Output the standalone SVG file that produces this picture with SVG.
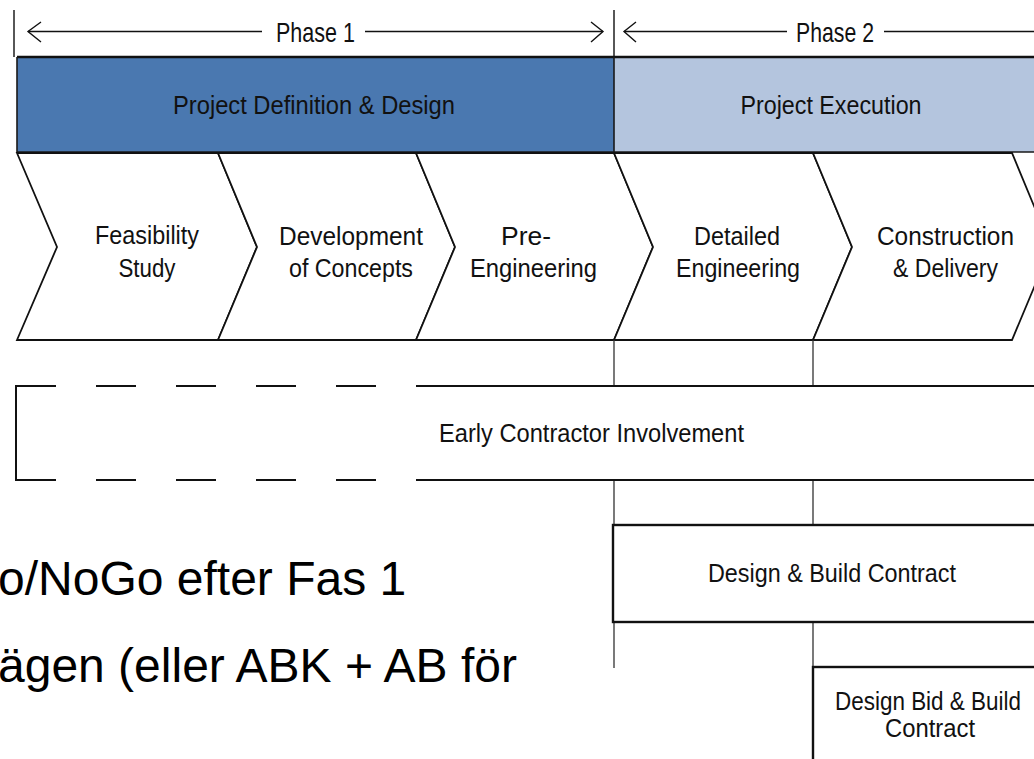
<svg xmlns="http://www.w3.org/2000/svg" width="1034" height="759" viewBox="0 0 1034 759">
<style>
.t{font-family:"Liberation Sans",Arial,sans-serif;font-size:25px;fill:#111;text-anchor:middle}
.ph{font-size:28px}
.bd{font-size:26px}
.big{font-family:"Liberation Sans",Arial,sans-serif;font-size:48px;fill:#000}
.ln{stroke:#111;stroke-width:1.4;fill:none}
.chev{fill:#fff;stroke:#111;stroke-width:1.8;stroke-linejoin:miter}
.box{fill:#fff;stroke:#111;stroke-width:2.4}
.conn{stroke:#333;stroke-width:1.3;fill:none}
</style>
<rect width="1034" height="759" fill="#fff"/>
<g id="phases">
  <path class="ln" d="M14,10 V57 M614,10 V57"/>
  <path class="ln" d="M28,31.5 H262 M365,31.5 H603 M624,31.5 H787 M884,31.5 H1040"/>
  <path class="ln" d="M41,22 L28,31.5 L41,42 M591,22 L603,31.5 L591,42 M636,22 L624,31.5 L636,42"/>
  <text class="t ph" x="315.5" y="41.5" textLength="79" lengthAdjust="spacingAndGlyphs">Phase 1</text>
  <text class="t ph" x="835" y="41.5" textLength="78" lengthAdjust="spacingAndGlyphs">Phase 2</text>
</g>
<g id="band-design">
  <rect x="17" y="57" width="597" height="95" fill="#4a78b0"/>
  <text class="t bd" x="314" y="114" textLength="282" lengthAdjust="spacingAndGlyphs">Project Definition &amp; Design</text>
</g>
<g id="band-execution">
  <rect x="614" y="57" width="425" height="95" fill="#b4c5de"/>
  <text class="t bd" x="831" y="114" textLength="181" lengthAdjust="spacingAndGlyphs">Project Execution</text>
</g>
<path d="M17,57 H1040" stroke="#111" stroke-width="2.6" fill="none"/>
<path d="M17,152 H1040 M17,57 V152 M614,57 V152" stroke="#1a1a1a" stroke-width="1.6" fill="none"/>
<g id="feasibility">
  <polygon class="chev" points="17,153 218,153 257,247 218,340 17,340 57,247"/>
  <text class="t" x="147" y="244" textLength="104" lengthAdjust="spacingAndGlyphs">Feasibility</text>
  <text class="t" x="147" y="277" textLength="57" lengthAdjust="spacingAndGlyphs">Study</text>
</g>
<g id="concepts">
  <polygon class="chev" points="218,153 416,153 455,247 416,340 218,340 257,247"/>
  <text class="t" x="351" y="245" textLength="144" lengthAdjust="spacingAndGlyphs">Development</text>
  <text class="t" x="351" y="277" textLength="124" lengthAdjust="spacingAndGlyphs">of Concepts</text>
</g>
<g id="pre-engineering">
  <polygon class="chev" points="416,153 614,153 653,247 614,340 416,340 455,247"/>
  <text class="t" x="526" y="245" textLength="50" lengthAdjust="spacingAndGlyphs">Pre-</text>
  <text class="t" x="533.5" y="277" textLength="127" lengthAdjust="spacingAndGlyphs">Engineering</text>
</g>
<g id="detailed-engineering">
  <polygon class="chev" points="614,153 813,153 852,247 813,340 614,340 653,247"/>
  <text class="t" x="737" y="245" textLength="86" lengthAdjust="spacingAndGlyphs">Detailed</text>
  <text class="t" x="738" y="277" textLength="124" lengthAdjust="spacingAndGlyphs">Engineering</text>
</g>
<g id="construction">
  <polygon class="chev" points="813,153 1012,153 1051,247 1012,340 813,340 852,247"/>
  <text class="t" x="945.5" y="245" textLength="137" lengthAdjust="spacingAndGlyphs">Construction</text>
  <text class="t" x="945.5" y="277" textLength="105" lengthAdjust="spacingAndGlyphs">&amp; Delivery</text>
</g>
<g id="connectors">
  <path class="conn" d="M614,340 V386 M813,340 V386 M614,480 V525 M813,480 V525 M614,622 V668 M813,622 V667"/>
</g>
<g id="early-contractor-involvement">
  <path d="M16,386 H416 M16,480 H416" stroke="#111" stroke-width="2" stroke-dasharray="40 40" fill="none"/>
  <path d="M416,386 H1040 M416,480 H1040 M16,385 V481" stroke="#111" stroke-width="2" fill="none"/>
  <text class="t" x="591.5" y="442" textLength="305" lengthAdjust="spacingAndGlyphs">Early Contractor Involvement</text>
</g>
<g id="design-build">
  <rect class="box" x="613" y="525" width="440" height="97"/>
  <text class="t" x="832" y="582" textLength="248" lengthAdjust="spacingAndGlyphs">Design &amp; Build Contract</text>
</g>
<g id="design-bid-build">
  <rect class="box" x="813" y="667" width="240" height="120"/>
  <text class="t" x="928" y="710" textLength="186" lengthAdjust="spacingAndGlyphs">Design Bid &amp; Build</text>
  <text class="t" x="930" y="737" textLength="90" lengthAdjust="spacingAndGlyphs">Contract</text>
</g>
<g id="notes">
  <text class="big" x="-2" y="595">o/NoGo efter Fas 1</text>
  <text class="big" x="-2" y="682">ägen (eller ABK + AB för</text>
</g>
</svg>
